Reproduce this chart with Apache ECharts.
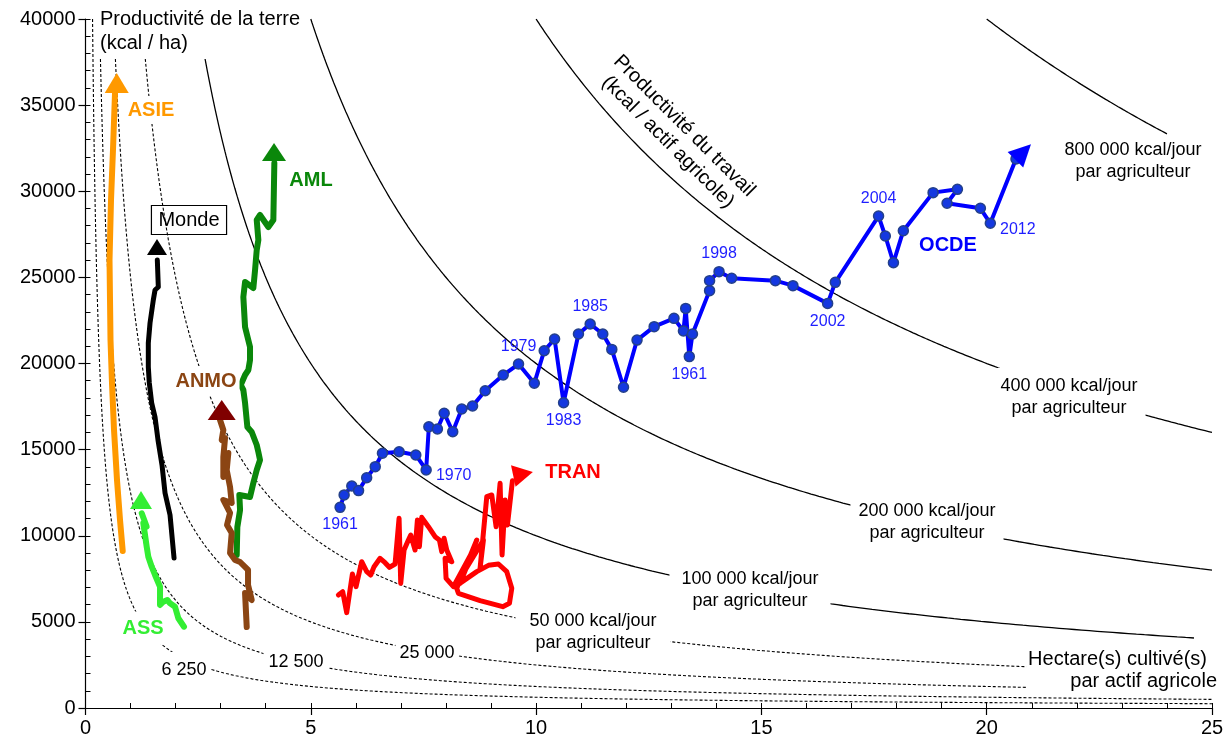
<!DOCTYPE html>
<html><head><meta charset="utf-8">
<script src="https://cdn.jsdelivr.net/npm/echarts/dist/echarts.min.js"></script>
<style>html,body{margin:0;padding:0;background:#fff}#c{width:1230px;height:744px}</style>
</head><body><div id="c"></div>
<script>
// ---- data: [ha per worker, kcal per ha] ----
const ocde = [[5.65,11650],[5.74,12370],[5.91,12890],[6.06,12620],[6.24,13370],[6.43,14010],[6.59,14790],[6.96,14880],[7.33,14690],[7.56,13820],
[7.62,16330],[7.81,16200],[7.96,17110],[8.15,16040],[8.35,17360],[8.59,17530],[8.87,18420],[9.27,19330],[9.61,19970],[9.96,18850],
[10.18,20740],[10.41,21420],[10.61,17720],[10.94,21710],[11.20,22290],[11.48,21710],[11.68,20820],[11.94,18620],[12.24,21360],[12.62,22140],
[13.06,22620],[13.27,21890],[13.32,23200],[13.40,20400],[13.47,21710],[13.85,24230],[13.85,24810],[14.06,25330],[14.34,24950],[15.31,24810],
[15.70,24520],[16.47,23490],[16.64,24710],[17.60,28560],[17.75,27400],[17.93,25850],[18.15,27710],[18.81,29920],[19.35,30110],[19.12,29300],
[19.86,29010],[20.08,28140],[20.65,31870]];
const ocdeYearLabels = [[0,'1961','bottom'],[9,'1970','right'],[18,'1979','top'],[22,'1983','bottom'],[24,'1985','top'],
[33,'1961','bottom'],[37,'1998','top'],[41,'2002','bottom'],[43,'2004','top'],[51,'2012','right']];
const tran = [[5.612,6560],[5.708,6754],[5.797,5535],[5.923,7780],[6.004,7044],[6.130,8495],[6.241,7915],[6.330,7722],[6.404,8205],[6.537,8689],
[6.648,8437],[6.744,8167],[6.870,8360],[6.959,11011],[6.996,7238],[7.070,9173],[7.166,9753],[7.218,10044],[7.314,9173],[7.366,10914],
[7.410,9366],[7.462,11069],[7.610,10527],[7.758,9947],[7.854,9753],[7.906,9076],[7.958,9850],[8.017,9173],[8.128,8495],[7.980,8689],
[8.002,7528],[8.165,7044],[8.624,9270],[8.313,7238],[8.683,9753],[8.239,6947],[8.276,6657],[8.757,6231],[9.260,5883],[9.408,6077],
[9.460,6947],[9.349,7915],[9.164,8360],[8.942,8283],[8.683,7915],[8.202,7044],[8.831,9753],[8.757,8109],[8.905,12269],[9.016,12366],
[9.112,10527],[9.201,13043],[9.245,8883],[9.312,12076],[9.364,10624],[9.475,13198]];
const aml = [[3.356,8883],[3.370,10508],[3.430,11495],[3.414,12366],[3.651,12250],[3.730,13121],[3.800,13817],[3.873,14398],[3.836,14862],[3.800,15269],
[3.689,16023],[3.592,16314],[3.541,17708],[3.503,18462],[3.445,18752],[3.541,19333],[3.614,19623],[3.651,20203],[3.651,20958],[3.541,22119],
[3.503,23861],[3.541,24732],[3.725,24384],[3.763,25429],[3.800,26590],[3.836,27170],[3.800,28331],[3.873,28622],[4.058,27925],[4.169,28331],[4.191,31640]];
const anmo = [[3.578,4703],[3.541,6676],[3.689,6270],[3.607,7141],[3.607,8012],[3.430,8476],[3.319,8592],[3.208,8999],[3.245,10160],[3.141,10624],
[3.208,11321],[3.059,12076],[3.245,11902],[3.208,12830],[3.134,13817],[3.170,14804],[3.059,13411],[3.059,14572],[3.097,15675],[3.023,15559],[3.059,16139],[2.986,16720]];
const monde = [[1.965,8708],[1.876,11205],[1.765,12482],[1.698,14108],[1.609,15559],[1.543,16894],[1.469,17708],[1.416,18868],[1.394,19797],[1.394,21191],
[1.432,22352],[1.505,23687],[1.543,24268],[1.616,24442],[1.594,26009]];
const asie = [[0.826,9115],[0.766,10914],[0.699,13237],[0.633,16139],[0.588,18868],[0.555,21365],[0.544,23687],[0.533,26009],[0.566,29492],[0.610,32395],[0.655,35704]];
const ass = [[2.186,4720],[2.060,5208],[1.987,5881],[1.876,6078],[1.816,6270],[1.727,6171],[1.654,5980],[1.654,7042],[1.543,7721],[1.469,8203],
[1.394,8784],[1.358,9364],[1.321,10044],[1.283,10723],[1.358,10526],[1.248,11303]];
// arrow-head positions (end of each trajectory)
const heads = {ASIE:[0.693,36290], AML:[4.184,32280], Monde:[1.587,26764], ANMO:[3.023,17300], ASS:[1.232,12076], TRAN:[9.711,13585], OCDE:[20.81,32279]};
// iso labour-productivity levels (kcal/jour par agriculteur): y = level / x
const solidLevels = [800000, 400000, 200000, 100000];
const dashedLevels = [50000, 25000, 12500, 6250];
const levelEnd = {800000:24, 400000:25, 200000:25, 100000:24.6, 50000:20.9, 25000:20.9, 12500:25, 6250:25};
const xTicks = {min:0, max:25, step:5, minor:1};
const yTicks = {min:0, max:40000, step:5000, minor:1000};

const FONT = '"Liberation Sans", Arial, sans-serif';
const f = (s, w) => (w || 'normal') + ' ' + s + 'px ' + FONT;

function isoCurve(level) {
  const x0 = level / yTicks.max, x1 = levelEnd[level], n = 300, pts = [];
  for (let i = 0; i <= n; i++) { const x = x0 * Math.pow(x1 / x0, i / n); pts.push([x, level / x]); }
  return pts;
}

const series = [];
solidLevels.forEach(l => series.push({type:'line', data:isoCurve(l), symbol:'none', silent:true, z:1,
  lineStyle:{color:'#000', width:1.3}}));
dashedLevels.forEach(l => series.push({type:'line', data:isoCurve(l), symbol:'none', silent:true, z:1,
  lineStyle:{color:'#000', width:1.1, type:[3,2]}}));

function traj(data, color, width) {
  return {type:'line', data:data, symbol:'none', z:3, lineStyle:{color:color, width:width, join:'round', cap:'round'}};
}
series.push(traj(asie, '#FF9900', 6));
series.push(traj(aml, '#0A870A', 6));
series.push(traj(anmo, '#8B4513', 6));
series.push(traj(monde, '#000000', 5));
series.push(traj(ass, '#33EE33', 6));
series.push(traj(tran, '#FF0000', 5));
series.push({type:'line', z:4, data: ocde.map((p, i) => {
    const lab = ocdeYearLabels.find(l => l[0] === i);
    if (!lab) return p;
    return {value:p, label:{show:true, formatter:lab[1], position:lab[2], offset: lab[2]==='right' ? [0,6] : [0,0]}};
  }),
  symbol:'circle', symbolSize:10, showAllSymbol:true,
  itemStyle:{color:'#1438E0', borderColor:'#24408A', borderWidth:1.5},
  lineStyle:{color:'#0000FF', width:4, join:'round'},
  label:{show:false, color:'#1E1EFF', fontSize:16, fontFamily:FONT, distance:4}
});
const headStyle = {
  ASIE:{color:'#FF9900', size:[24,20], rot:0},
  AML:{color:'#0A870A', size:[24,18], rot:0},
  Monde:{color:'#000000', size:[20,16], rot:0},
  ANMO:{color:'#800000', size:[28,20], rot:0},
  ASS:{color:'#33EE33', size:[22,18], rot:0},
  TRAN:{color:'#FF0000', size:[22,20], rot:-78},
  OCDE:{color:'#0000FF', size:[22,22], rot:-45}
};
series.push({type:'scatter', z:5, symbol:'triangle', silent:true,
  data: Object.keys(heads).map(k => ({value:heads[k], symbolSize:headStyle[k].size, symbolRotate:headStyle[k].rot,
    itemStyle:{color:headStyle[k].color, opacity:1}}))
});

function txt(text, x, y, opt) {
  opt = opt || {};
  return {type:'text', x:x, y:y, z:100, rotation:opt.rotation || 0,
    style:Object.assign({text:text, font:opt.font || f(18), fill:opt.fill || '#000', align:opt.align || 'center',
      verticalAlign:opt.va || 'middle', lineHeight:opt.lh || 22}, opt.bg === false ? {} : {backgroundColor:'#fff', padding:opt.pad || [2,8]},
      opt.border ? {borderColor:'#000', borderWidth:1.2, padding:opt.pad} : {})};
}
const graphics = [
  txt('Productivité de la terre\n(kcal / ha)', 99, 6, {font:f(20), align:'left', va:'top', lh:24, pad:[1,2,4,1]}),
  txt('Productivité du travail\n(kcal / actif agricole)', 676, 134, {font:f(20), lh:23, bg:false, rotation:-Math.PI/4}),
  txt('800 000 kcal/jour\npar agriculteur', 1133, 161, {bg:false}),
  txt('400 000 kcal/jour\npar agriculteur', 1069, 397, {pad:[7,8]}),
  txt('200 000 kcal/jour\npar agriculteur', 927, 522, {pad:[3,8]}),
  txt('100 000 kcal/jour\npar agriculteur', 750, 590, {pad:[3,12]}),
  txt('50 000 kcal/jour\npar agriculteur', 593, 632, {pad:[3,14]}),
  txt('25 000', 427, 653, {font:f(18), pad:[3,4]}),
  txt('12 500', 296, 662, {font:f(18), pad:[3,5]}),
  txt('6 250', 184, 670, {font:f(18), pad:[12,4,2,4]}),
  txt('Hectare(s) cultivé(s)', 1209, 659, {font:f(20), align:'right', pad:[0,2]}),
  txt('par actif agricole', 1219, 681, {font:f(20), align:'right', pad:[0,2]}),
  txt('ASIE', 151, 110, {font:f(20,'bold'), fill:'#FF9900', pad:[3,3]}),
  txt('AML', 311, 180, {font:f(20,'bold'), fill:'#0A870A', pad:[1,2]}),
  txt('Monde', 189, 220, {font:f(20), bg:false, border:true, pad:[4,7,3,7]}),
  txt('ANMO', 206, 381, {font:f(20,'bold'), fill:'#8B4513', pad:[4,3]}),
  txt('ASS', 143, 628, {font:f(20,'bold'), fill:'#33EE33', pad:[10,2,1,2]}),
  txt('TRAN', 573, 472, {font:f(20,'bold'), fill:'#FF0000', pad:[1,2]}),
  txt('OCDE', 948, 245, {font:f(20,'bold'), fill:'#0000FF', pad:[1,2]})
];

const axisCommon = {type:'value', splitLine:{show:false}, axisLine:{show:true, onZero:false, lineStyle:{color:'#000', width:1.2}}};
const option = {
  animation:false,
  grid:{left:85.5, right:18, top:19, bottom:36, containLabel:false},
  xAxis:[
    Object.assign({}, axisCommon, {min:xTicks.min, max:xTicks.max, interval:xTicks.step, position:'bottom',
      axisTick:{show:true, inside:false, length:7, lineStyle:{color:'#000', width:1.2}},
      axisLabel:{color:'#000', fontSize:20, fontFamily:FONT, margin:10, formatter: v => String(v)}}),
    Object.assign({}, axisCommon, {min:xTicks.min, max:xTicks.max, interval:xTicks.minor, position:'bottom',
      axisLine:{show:false}, axisTick:{show:true, inside:true, length:5, lineStyle:{color:'#000', width:1}}, axisLabel:{show:false}})
  ],
  yAxis:[
    Object.assign({}, axisCommon, {min:yTicks.min, max:yTicks.max, interval:yTicks.step, position:'left',
      axisTick:{show:true, inside:false, length:7, lineStyle:{color:'#000', width:1.2}},
      axisLabel:{color:'#000', fontSize:20, fontFamily:FONT, margin:10, formatter: v => String(v)}}),
    Object.assign({}, axisCommon, {min:yTicks.min, max:yTicks.max, interval:yTicks.minor, position:'left',
      axisLine:{show:false}, axisTick:{show:true, inside:true, length:5, lineStyle:{color:'#000', width:1}}, axisLabel:{show:false}})
  ],
  series: series,
  graphic: graphics
};
const chart = echarts.init(document.getElementById('c'), null, {renderer:'canvas'});
chart.setOption(option);
</script></body></html>
